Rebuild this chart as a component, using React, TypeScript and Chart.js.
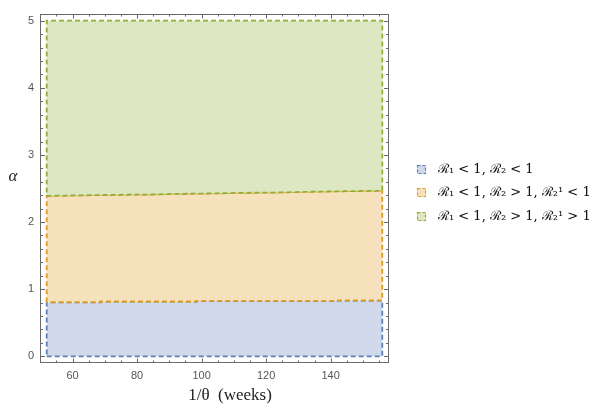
import { useEffect, useRef } from "react";
import { Chart, registerables } from "chart.js";

Chart.register(...registerables);

// ---- data ----
const weekMin = 52;
const weekMax = 156;
const alphaMin = 0;
const alphaMax = 5;
const lowerWeeks = [52, 68.6, 68.6, 98.5, 98.5, 141.8, 141.8, 156];
const lowerAlpha = [0.805, 0.805, 0.816, 0.816, 0.825, 0.825, 0.831, 0.831];
const upperWeeks = [52, 71.7, 83.6, 91.8, 103.2, 111.9, 123.2, 132, 151.5, 156];
const upperAlpha = [2.39, 2.405, 2.41, 2.42, 2.426, 2.435, 2.44, 2.45, 2.465, 2.465];
const xTicks = [60, 80, 100, 120, 140];
const yTicks = [0, 1, 2, 3, 4, 5];
const regionLabels = [
  "ℛ₁ < 1, ℛ₂ < 1",
  "ℛ₁ < 1, ℛ₂ > 1, ℛ₂¹ < 1",
  "ℛ₁ < 1, ℛ₂ > 1, ℛ₂¹ > 1",
];
const lineColors = ["#5e81b5", "#e19c24", "#8fb032"];
const fillColors = ["#cfd9e9", "#f6e1bd", "#dde7c2"];
const xTitle = "1/θ  (weeks)";
const yTitle = "α";

const X_MIN = 49.92, X_MAX = 158.08, Y_MIN = -0.1, Y_MAX = 5.1;
const xMinorStep = 5;
const yMinorStep = 0.2;

const pts = (xs: number[], ys: number[]) => xs.map((x, i) => ({ x, y: ys[i] }));

function buildRegions() {
  const lower = pts(lowerWeeks, lowerAlpha);
  const upper = pts(upperWeeks, upperAlpha);
  const blue = [
    { x: weekMin, y: alphaMin },
    { x: weekMax, y: alphaMin },
    ...lower.slice().reverse(),
    { x: weekMin, y: alphaMin },
  ];
  const orange = [...lower, ...upper.slice().reverse(), lower[0]];
  const green = [...upper, { x: weekMax, y: alphaMax }, { x: weekMin, y: alphaMax }, upper[0]];
  return [blue, orange, green];
}

const framePlugin = {
  id: "frameTicks",
  afterDraw(chart: any) {
    const { ctx, chartArea: a, scales } = chart;
    const xs = scales.x, ys = scales.y;
    ctx.save();
    ctx.strokeStyle = "#6a6a6a";
    ctx.lineWidth = 1;
    ctx.strokeRect(a.left + 0.5, a.top + 0.5, a.right - a.left - 1, a.bottom - a.top - 1);
    ctx.beginPath();
    for (let v = Math.ceil(X_MIN / xMinorStep) * xMinorStep; v <= X_MAX; v += xMinorStep) {
      const px = Math.round(xs.getPixelForValue(v)) + 0.5;
      const len = xTicks.includes(v) ? 4.5 : 2.5;
      ctx.moveTo(px, a.bottom);
      ctx.lineTo(px, a.bottom - len);
      ctx.moveTo(px, a.top);
      ctx.lineTo(px, a.top + len);
    }
    for (let i = Math.ceil(Y_MIN / yMinorStep); i * yMinorStep <= Y_MAX + 1e-9; i++) {
      const v = i * yMinorStep;
      const py = Math.round(ys.getPixelForValue(v)) + 0.5;
      const len = i % 5 === 0 ? 5 : 3;
      ctx.moveTo(a.left, py);
      ctx.lineTo(a.left + len, py);
      ctx.moveTo(a.right, py);
      ctx.lineTo(a.right - len, py);
    }
    ctx.stroke();

    // axis titles
    ctx.fillStyle = "#222";
    ctx.textAlign = "center";
    ctx.textBaseline = "middle";
    ctx.font = "17px 'Liberation Serif'";
    ctx.fillText(xTitle, 230, 396);
    ctx.font = "italic 17px 'Liberation Serif'";
    ctx.fillText(yTitle, 13, 177);

    // legend
    const rowsY = [169, 192, 216];
    chart.data.datasets.forEach((ds: any, i: number) => {
      const y = rowsY[i];
      ctx.fillStyle = ds.backgroundColor;
      ctx.fillRect(417, y - 4, 9, 9);
      ctx.setLineDash([3, 2]);
      ctx.strokeStyle = ds.borderColor;
      ctx.lineWidth = 1.2;
      ctx.strokeRect(417.5, y - 3.5, 8, 8);
      ctx.setLineDash([]);
      ctx.fillStyle = "#111";
      ctx.textAlign = "left";
      ctx.font = "13px 'DejaVu Serif'";
      ctx.fillText(ds.label, 438, y + 1);
    });
    ctx.restore();
  },
};

export default function App() {
  const ref = useRef<HTMLCanvasElement | null>(null);
  useEffect(() => {
    if (!ref.current) return;
    const regions = buildRegions();
    const chart = new Chart(ref.current, {
      type: "scatter",
      data: {
        datasets: regions.map((r, i) => ({
          label: regionLabels[i],
          data: r,
          showLine: true,
          fill: "shape",
          backgroundColor: fillColors[i],
          borderColor: lineColors[i],
          borderWidth: 1.8,
          borderDash: [5, 3],
          borderDashOffset: i * 4,
          pointRadius: 0,
          tension: 0,
          order: 2 - i,
        })),
      } as any,
      options: {
        animation: false,
        responsive: false,
        layout: { padding: { left: 0, top: 14, right: 211, bottom: 0 } },
        plugins: { legend: { display: false }, tooltip: { enabled: false } },
        scales: {
          x: {
            type: "linear",
            min: X_MIN,
            max: X_MAX,
            afterBuildTicks: (s: any) => { s.ticks = xTicks.map((v) => ({ value: v })); },
            afterFit: (s: any) => { s.height = 48; },
            grid: { display: false, drawTicks: false },
            border: { display: false },
            ticks: { color: "#555", font: { family: "'Liberation Sans'", size: 11 }, padding: 6 },
          },
          y: {
            type: "linear",
            min: Y_MIN,
            max: Y_MAX,
            afterBuildTicks: (s: any) => { s.ticks = yTicks.map((v) => ({ value: v })); },
            afterFit: (s: any) => { s.width = 40; },
            grid: { display: false, drawTicks: false },
            border: { display: false },
            ticks: { color: "#555", font: { family: "'Liberation Sans'", size: 11 }, padding: 6 },
          },
        },
      } as any,
      plugins: [framePlugin],
    });
    return () => chart.destroy();
  }, []);
  return (
    <div style={{ position: "absolute", left: 0, top: 0, width: 600, height: 411, background: "#fff" }}>
      <canvas ref={ref} width={600} height={411} style={{ width: 600, height: 411, display: "block" }} />
    </div>
  );
}
